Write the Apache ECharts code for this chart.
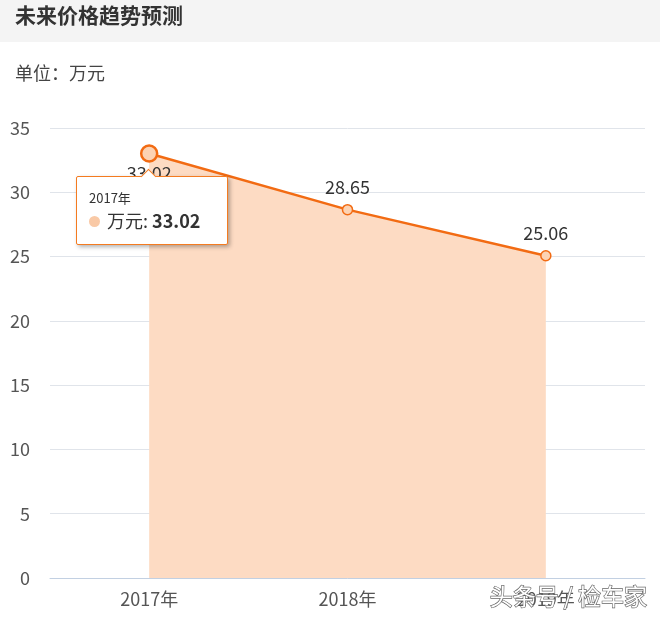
<!DOCTYPE html>
<html><head><meta charset="utf-8">
<script src="https://cdn.jsdelivr.net/npm/echarts@6/dist/echarts.min.js"></script>
<style>html,body{margin:0;padding:0;background:#fff;}#c{width:670px;height:620px;}</style>
</head><body><div id="c"></div>
<script>
var categories = ['2017年', '2018年', '2019年'];
var values = [33.02, 28.65, 25.06];
var yTicks = [0, 5, 10, 15, 20, 25, 30, 35];
var title = '未来价格趋势预测';
var unitText = '单位：万元';
var seriesName = '万元';
var watermark = '头条号 / 检车家';

var chart = echarts.init(document.getElementById('c'), null, {renderer: 'canvas'});
var font = '"Microsoft YaHei","Noto Sans CJK SC",sans-serif';
var cssFont = "'Noto Sans CJK SC',sans-serif";
var data = values.map(function (v, i) {
  return i === 0 ? {value: v, symbolSize: 16, itemStyle: {borderWidth: 2.5},
    label: {position: 'bottom', distance: 1}} : {value: v};
});
chart.setOption({
  animation: false,
  graphic: [
    {type: 'rect', left: 0, top: 0, shape: {width: 660, height: 42}, style: {fill: '#f4f4f4'}, z: 0},
    {type: 'text', left: 15, top: 5, style: {text: title, font: 'bold 21px ' + font, fill: '#333'}},
    {type: 'text', left: 15, top: 64, style: {text: unitText, font: '18px ' + font, fill: '#444'}},
    {type: 'text', left: 489, top: 584, z: 100, style: {text: watermark, font: '23px ' + font, fill: '#fff', stroke: '#666', lineWidth: 1.3}}
  ],
  grid: {left: 50, right: 25, top: 128, bottom: 42},
  tooltip: {
    trigger: 'item',
    alwaysShowContent: true,
    position: function (pt, params, dom, rect, size) {
      return [rect.x + rect.width / 2 - 73, rect.y + 32];
    },
    backgroundColor: '#fff',
    borderColor: '#f47b20',
    borderWidth: 1,
    padding: [12, 12, 11, 12],
    extraCssText: 'box-shadow:2px 2px 4px rgba(0,0,0,0.3);border-radius:2px;width:126px;',
    formatter: function (p) {
      return '<div style="position:absolute;top:-6px;left:66px;width:10px;height:10px;background:#fff;border-left:1px solid #f47b20;border-top:1px solid #f47b20;transform:rotate(45deg);"></div>' +
        '<div style="font-size:13px;color:#333;line-height:18px;font-family:' + cssFont + '">' + categories[p.dataIndex] + '</div>' +
        '<div style="font-size:18px;color:#333;line-height:26px;font-family:' + cssFont + '">' +
        '<span style="display:inline-block;width:11px;height:11px;border-radius:6px;background:#f9c9a6;margin-right:7px;vertical-align:1px;"></span>' +
        p.seriesName + ': <b>' + p.value.toFixed(2) + '</b></div>';
    }
  },
  xAxis: {
    type: 'category',
    data: categories,
    boundaryGap: true,
    axisLine: {lineStyle: {color: '#c2d0e2', width: 1}},
    axisTick: {length: 11, lineStyle: {color: '#c2d0e2'}},
    axisLabel: {fontSize: 18, color: '#555', margin: 12, fontFamily: font}
  },
  yAxis: {
    type: 'value',
    min: yTicks[0],
    max: yTicks[yTicks.length - 1],
    interval: 5,
    axisLine: {show: false},
    axisTick: {show: false},
    splitLine: {lineStyle: {color: '#e0e4ea'}},
    axisLabel: {fontSize: 18, color: '#555', margin: 20, fontFamily: font}
  },
  series: [{
    name: seriesName,
    type: 'line',
    data: data,
    symbol: 'circle',
    symbolSize: 10,
    lineStyle: {color: '#f26b13', width: 2.5},
    itemStyle: {color: '#fcd3b4', borderColor: '#f26b13', borderWidth: 1.5},
    areaStyle: {color: '#fddbc3', opacity: 1},
    label: {show: true, position: 'top', distance: 8, fontSize: 18, color: '#333', fontFamily: font,
      formatter: function (p) { return p.value.toFixed(2); }},
    emphasis: {disabled: true}
  }]
});
chart.dispatchAction({type: 'showTip', seriesIndex: 0, dataIndex: 0});
</script></body></html>
